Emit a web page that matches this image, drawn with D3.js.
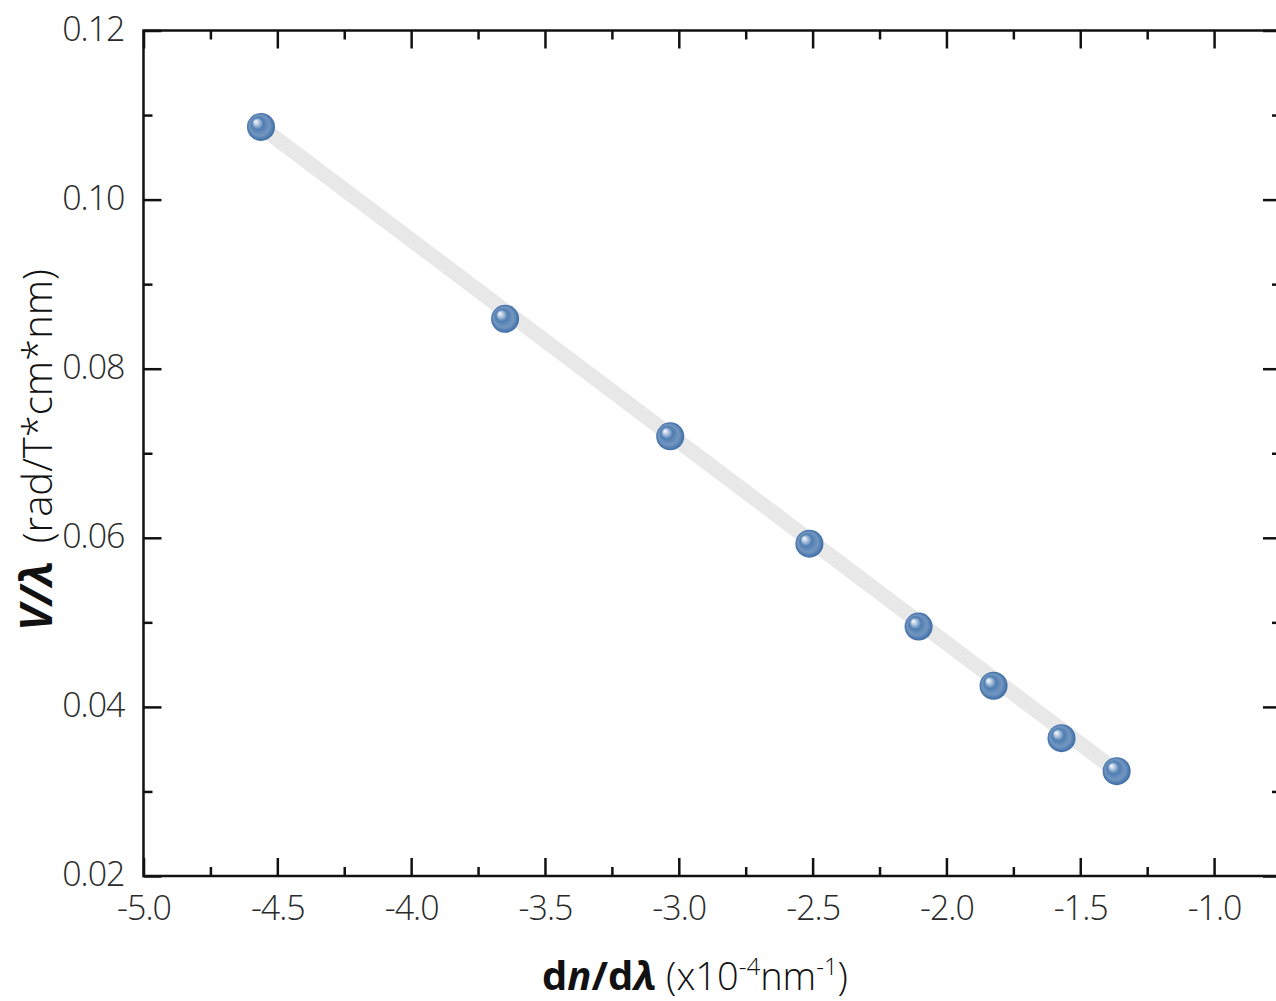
<!DOCTYPE html>
<html>
<head>
<meta charset="utf-8">
<script src="https://cdn.jsdelivr.net/npm/d3@7"></script>
<style>
  body { margin: 0; background: #fff; }
  svg { display: block; }
  .tick text { font-family: "Open Sans", sans-serif; font-weight: 300; fill: #2a2a2a; letter-spacing: -1px; }
</style>
</head>
<body>
<div id="chart"></div>
<script>

// values
let dnX = [-4.561, -3.649, -3.032, -2.512, -2.104, -1.824, -1.570, -1.364];
let verdetY = [0.1086, 0.0859, 0.0720, 0.0593, 0.0495, 0.0425, 0.0363, 0.0324];
let fitX = [-4.561, -1.364];
let fitY = [0.1086, 0.0324];
let xTicks = [-5.0, -4.5, -4.0, -3.5, -3.0, -2.5, -2.0, -1.5, -1.0];
let yTicks = [0.02, 0.04, 0.06, 0.08, 0.10, 0.12];

let width = 1276;
let height = 1001;
let margin = {left: 143.5, top: 30.5, right: 1281, bottom: 876};

let x = d3.scaleLinear().domain([-5, -0.75]).range([margin.left, margin.right]);
let y = d3.scaleLinear().domain([0.02, 0.12]).range([margin.bottom, margin.top]);

let svg = d3.select("#chart")
	.append("svg")
	.attr("width", width)
	.attr("height", height);

let defs = svg.append("defs");
let grad = defs.append("radialGradient")
	.attr("id", "ball")
	.attr("cx", "50%").attr("cy", "50%").attr("r", "50%")
	.attr("fx", "30%").attr("fy", "30%");
grad.append("stop").attr("offset", "0").attr("stop-color", "#ffffff");
grad.append("stop").attr("offset", "0.18").attr("stop-color", "#b9cce2");
grad.append("stop").attr("offset", "0.42").attr("stop-color", "#4f7db2");
grad.append("stop").attr("offset", "0.72").attr("stop-color", "#7396c0");
grad.append("stop").attr("offset", "1").attr("stop-color", "#3b6ca6");

// frame
svg.append("rect")
	.attr("x", margin.left)
	.attr("y", margin.top)
	.attr("width", margin.right - margin.left)
	.attr("height", margin.bottom - margin.top)
	.attr("fill", "none")
	.attr("stroke", "#111")
	.attr("stroke-width", 2.5);

let xMinor = d3.range(-4.75, -0.75, 0.5);
let yMinor = [0.03, 0.05, 0.07, 0.09, 0.11];

function tickSet(g) {
	g.select(".domain").remove();
	g.selectAll(".tick line").attr("stroke", "#111").attr("stroke-width", 2.5);
}

// bottom axis, ticks inward
svg.append("g")
	.attr("transform", `translate(0,${margin.bottom})`)
	.call(d3.axisBottom(x).tickValues(xTicks).tickSizeInner(-18).tickPadding(20).tickFormat(d => d.toFixed(1)))
	.call(tickSet)
	.selectAll("text").style("font-size", "34px");

svg.append("g")
	.attr("transform", `translate(0,${margin.bottom})`)
	.call(d3.axisBottom(x).tickValues(xMinor).tickSize(-9).tickFormat(""))
	.call(tickSet);

// top axis
svg.append("g")
	.attr("transform", `translate(0,${margin.top})`)
	.call(d3.axisTop(x).tickValues(xTicks).tickSize(-18).tickFormat(""))
	.call(tickSet);
svg.append("g")
	.attr("transform", `translate(0,${margin.top})`)
	.call(d3.axisTop(x).tickValues(xMinor).tickSize(-9).tickFormat(""))
	.call(tickSet);

// left axis
svg.append("g")
	.attr("transform", `translate(${margin.left},0)`)
	.call(d3.axisLeft(y).tickValues(yTicks).tickSizeInner(-18).tickPadding(19).tickFormat(d => d.toFixed(2)))
	.call(tickSet)
	.selectAll("text").style("font-size", "34px").attr("dy", "0.28em");
svg.append("g")
	.attr("transform", `translate(${margin.left},0)`)
	.call(d3.axisLeft(y).tickValues(yMinor).tickSize(-9).tickFormat(""))
	.call(tickSet);

// right axis
svg.append("g")
	.attr("transform", `translate(${margin.right},0)`)
	.call(d3.axisRight(y).tickValues(yTicks).tickSize(-18).tickFormat(""))
	.call(tickSet);
svg.append("g")
	.attr("transform", `translate(${margin.right},0)`)
	.call(d3.axisRight(y).tickValues(yMinor).tickSize(-9).tickFormat(""))
	.call(tickSet);

// fit line
let fitLine = d3.line().x(d => x(d[0])).y(d => y(d[1]));
svg.append("path")
	.datum(fitX.map((v, i) => [v, fitY[i]]))
	.attr("d", fitLine)
	.attr("fill", "none")
	.attr("stroke", "#e8e8e8")
	.attr("stroke-width", 15);

// points
svg.append("g")
	.selectAll("circle")
	.data(dnX.map((v, i) => [v, verdetY[i]]))
	.enter().append("circle")
	.attr("cx", d => x(d[0]))
	.attr("cy", d => y(d[1]))
	.attr("r", 14)
	.attr("fill", "url(#ball)");

// x label
let xl = svg.append("text")
	.attr("x", 695)
	.attr("y", 990)
	.attr("text-anchor", "middle")
	.style("font-family", "'Open Sans', sans-serif")
	.style("font-size", "38px")
	.style("fill", "#111");
xl.append("tspan").style("font-weight", 700).style("font-size", "40px").text("d");
xl.append("tspan").style("font-weight", 700).style("font-size", "40px").style("font-style", "italic").text("n");
xl.append("tspan").style("font-weight", 700).style("font-size", "40px").text("/d");
xl.append("tspan").style("font-weight", 700).style("font-size", "40px").style("font-style", "italic").text("λ");
xl.append("tspan").style("font-weight", 300).text(" (x10");
xl.append("tspan").style("font-weight", 300).style("font-size", "24px").attr("dy", -15).text("-4");
xl.append("tspan").style("font-weight", 300).attr("dy", 15).text("nm");
xl.append("tspan").style("font-weight", 300).style("font-size", "24px").attr("dy", -15).text("-1");
xl.append("tspan").style("font-weight", 300).attr("dy", 15).text(")");

// y label
let yl = svg.append("text")
	.attr("transform", "translate(52,450) rotate(-90)")
	.attr("text-anchor", "middle")
	.style("font-family", "'Open Sans', sans-serif")
	.style("font-size", "40px")
	.style("fill", "#111");
yl.append("tspan").style("font-weight", 700).style("font-size", "44px").style("font-style", "italic").text("V/λ");
yl.append("tspan").style("font-weight", 300).attr("dx", 18).text("(rad/T*cm*nm)");

</script>
</body>
</html>
